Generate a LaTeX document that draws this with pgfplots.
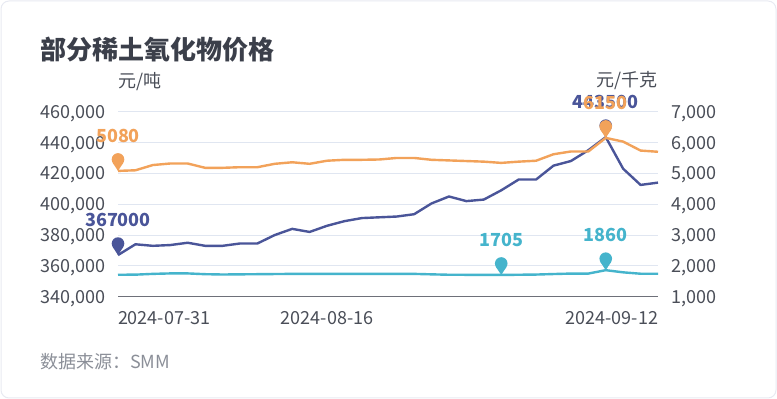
\documentclass[border=0pt]{standalone}
\usepackage{pgfplots}
\pgfplotsset{compat=1.18}
\usepackage{fontspec}
\setmainfont{Noto Sans CJK SC}
\definecolor{cblue}{HTML}{4A5599}
\definecolor{corange}{HTML}{F2A25A}
\definecolor{cteal}{HTML}{45B4CC}
\definecolor{cgrid}{HTML}{E0E6F1}
\definecolor{caxis}{HTML}{6E7079}
\definecolor{ctitle}{HTML}{3B3F4A}
\definecolor{ctick}{HTML}{4A4E58}
\definecolor{csource}{HTML}{8B8F98}
\definecolor{cborder}{HTML}{E8EAF2}
\pgfdeclareplotmark{pin}{%
  \pgfpathcircle{\pgfpoint{0pt}{11.5pt}}{6.3pt}\pgfusepathqfill
  \pgfpathmoveto{\pgfpoint{-5.27pt}{8.05pt}}%
  \pgfpathlineto{\pgfpoint{5.27pt}{8.05pt}}%
  \pgfpathlineto{\pgfpoint{0pt}{0pt}}%
  \pgfpathclose\pgfusepathqfill}
\pgfplotstableread{
i blue orange teal
0 367000 5080 1712
1 374000 5100 1715
2 373000 5270 1740
3 373500 5320 1755
4 375000 5320 1755
5 373000 5180 1730
6 373000 5180 1720
7 374500 5200 1725
8 374500 5200 1730
9 380000 5310 1735
10 384000 5360 1740
11 382000 5310 1740
12 386000 5410 1740
13 389000 5440 1740
14 391000 5440 1740
15 391500 5450 1740
16 392000 5500 1740
17 393500 5500 1740
18 400500 5440 1725
19 405000 5420 1712
20 402000 5400 1710
21 403000 5380 1710
22 409000 5340 1705
23 416000 5380 1712
24 416000 5410 1718
25 425000 5620 1735
26 428000 5710 1750
27 435000 5710 1750
28 443500 6150 1860
29 423000 6030 1790
30 412500 5740 1745
31 414000 5700 1745
}\datatable
\pgfplotsset{
  common/.style={
    at={(118pt,102.3pt)}, anchor=south west,
    scale only axis, width=540pt, height=185pt,
    xmin=0, xmax=31, clip=false,
    major tick length=0pt,
    tick label style={font=\fontsize{18}{20}\selectfont, text=ctick},
    /pgf/number format/fixed,
    /pgf/number format/1000 sep={,},
    /pgf/number format/assume math mode=true,
    scaled y ticks=false,
    y axis line style={draw=none},
  },
  lbl/.style={nodes near coords, point meta=explicit symbolic,
    nodes near coords style={anchor=center, yshift=35pt, inner sep=0pt,
      font=\bfseries\fontsize{18}{20}\selectfont, text=#1}},
}
\begin{document}
\begin{tikzpicture}[x=1pt,y=1pt]
\filldraw[fill=white, draw=cborder, line width=1pt, rounded corners=8pt] (1,1) rectangle (776,398);
\path (0,0) rectangle (777,399);
\node[anchor=west, inner sep=0pt, font=\bfseries\fontsize{26}{28}\selectfont, text=ctitle] at (40,349) {部分稀土氧化物价格};
\node[anchor=center, inner sep=0pt, font=\fontsize{18}{20}\selectfont, text=ctick] at (140,317) {元/吨};
\node[anchor=east, inner sep=0pt, font=\fontsize{18}{20}\selectfont, text=ctick] at (658,318) {元/千克};
\node[anchor=west, inner sep=0pt, font=\fontsize{18}{20}\selectfont, text=csource] at (40,37) {数据来源：SMM};
\begin{axis}[common,
  ymin=340000, ymax=460000,
  ytick={340000,360000,380000,400000,420000,440000,460000},
  ymajorgrids, grid style={cgrid, line width=1pt},
  axis x line*=bottom, axis y line*=left,
  x axis line style={draw=caxis, line width=1.2pt, -},
  xtick={0,12,31},
  xticklabels={\makebox[0pt][l]{2024-07-31}, 2024-08-16, \makebox[0pt][r]{2024-09-12}},
  xticklabel style={anchor=base, inner sep=0pt, yshift=-28pt},
  yticklabel style={anchor=base east, inner sep=0pt, xshift=-12pt, yshift=-6.5pt},
]
\addplot[cblue, line width=2.4pt, line join=round, no markers] table[x=i, y=blue] {\datatable};
\addplot[only marks, mark=pin, cblue, lbl=cblue] coordinates {(0,367000)[367000] (28,443500)[443500]};
\end{axis}
\begin{axis}[common,
  ymin=1000, ymax=7000,
  ytick={1000,2000,3000,4000,5000,6000,7000},
  axis x line=none, axis y line*=right,
  yticklabel style={anchor=base west, inner sep=0pt, xshift=13pt, yshift=-6.5pt},
]
\addplot[corange, line width=2.4pt, line join=round, no markers] table[x=i, y=orange] {\datatable};
\addplot[cteal, line width=2.4pt, line join=round, no markers] table[x=i, y=teal] {\datatable};
\addplot[only marks, mark=pin, corange, lbl=corange] coordinates {(0,5080)[5080] (28,6150)[6150]};
\addplot[only marks, mark=pin, cteal, lbl=cteal] coordinates {(22,1705)[1705] (28,1860)[1860]};
\end{axis}
\end{tikzpicture}
\end{document}
